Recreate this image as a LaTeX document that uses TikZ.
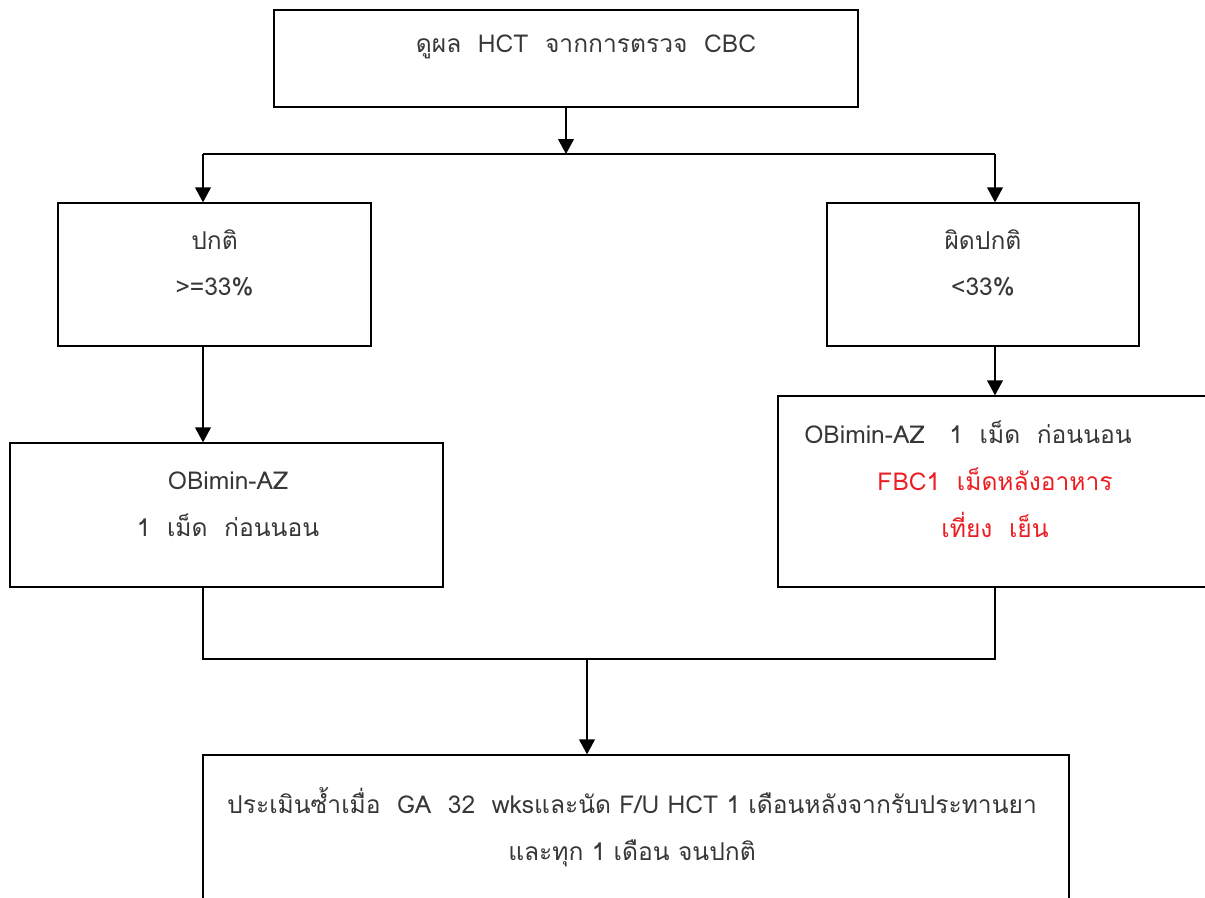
\documentclass[tikz,border=0pt]{standalone}
\usepackage{fontspec}
\newfontfamily\thai[Script=Thai]{Loma}
\usetikzlibrary{arrows.meta,positioning,calc}

\definecolor{txtgray}{RGB}{55,55,55}
\definecolor{txtred}{RGB}{236,30,36}

\begin{document}
\begin{tikzpicture}[
    x=0.02cm, y=-0.02cm,
    box/.style={rectangle, draw, line width=0.8pt, inner sep=0pt},
    txt/.style={font=\thai\fontsize{14}{26.6}\selectfont, text=txtgray, align=center, inner sep=0pt},
    arr/.style={-{Triangle[width=9pt,length=8.5pt]}, line width=0.75pt},
    line/.style={line width=0.75pt}
]
\clip (0,0) rectangle (1205,897);

% Boxes
\node[box, minimum width=11.68cm, minimum height=1.94cm] (check) at (566,58.5) {};
\node[box, minimum width=6.26cm, minimum height=2.86cm] (normal) at (214.5,274.5) {};
\node[box, minimum width=6.24cm, minimum height=2.86cm] (abnormal) at (983,274.5) {};
\node[box, minimum width=8.66cm, minimum height=2.88cm] (drugL) at (226.5,515) {};
\node[box, minimum width=8.74cm, minimum height=3.82cm] (drugR) at (996.5,491.5) {};
\node[box, minimum width=17.32cm, minimum height=3.7cm] (follow) at (636,847.5) {};

% Texts
\node[txt] (checkTxt) at (586,47) {ดูผล\ \ HCT\ \ จากการตรวจ\ \ CBC};
\node[txt] (normalTxt) at (214.5,263) {ปกติ\\ >=33\%};
\node[txt] (abnormalTxt) at (983,263) {ผิดปกติ\\ <33\%};
\node[txt] (drugLTxt) at (228,504) {OBimin-AZ\\ 1\ \ เม็ด\ \ ก่อนนอน};
\node[txt] (drugRTxt) at (968,479) {OBimin-AZ\ \ \ 1\ \ เม็ด\ \ ก่อนนอน\\
    \hspace*{2.2em}\textcolor{txtred}{FBC1\ \ เม็ดหลังอาหาร}\\
    \hspace*{2.2em}\textcolor{txtred}{เที่ยง\ \ เย็น}};
\node[txt] (followTxt) at (632,827) {ประเมินซ้ำเมื่อ\ \ GA\ \ 32\ \ wksและนัด F/U HCT 1 เดือนหลังจากรับประทานยา\\
    และทุก 1 เดือน จนปกติ};

% Connectors
\coordinate (splitL) at (203,154);
\coordinate (splitR) at (995,154);
\coordinate (joinL) at (203,659);
\coordinate (joinR) at (995,659);
\coordinate (join) at (587,659);

\draw[arr] (check.south) -- (check.south |- splitL);
\draw[line] (splitL) -- (splitR);
\draw[arr] (splitL) -- (splitL |- normal.north);
\draw[arr] (splitR) -- (splitR |- abnormal.north);
\draw[arr] (splitL |- normal.south) -- (splitL |- drugL.north);
\draw[arr] (splitR |- abnormal.south) -- (splitR |- drugR.north);
\draw[line] (joinL |- drugL.south) -- (joinL) -- (joinR) -- (joinR |- drugR.south);
\draw[arr] (join) -- (join |- follow.north);

\end{tikzpicture}
\end{document}
